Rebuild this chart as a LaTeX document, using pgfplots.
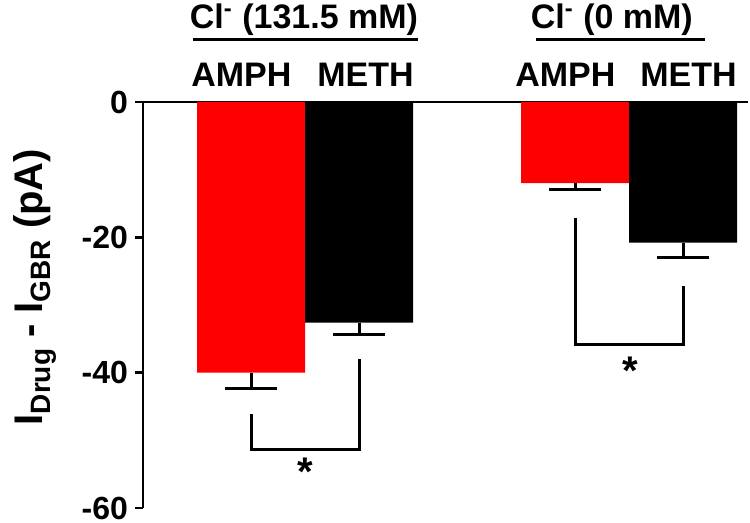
\documentclass[border=0pt]{standalone}
\usepackage{fontspec}
\setmainfont{Liberation Sans}
\usepackage{pgfplots}
\pgfplotsset{compat=1.18}
\begin{document}
\begin{tikzpicture}
\useasboundingbox (-71.5pt,-7.5pt) rectangle (303.5pt,254pt);
\begin{axis}[
  at={(0,0)}, anchor=south west,
  scale only axis, width=302.5pt, height=203pt,
  xmin=0, xmax=5.6, ymin=-60, ymax=0,
  axis x line*=top, axis y line*=left,
  axis line style={-, line width=1.4pt},
  xtick=\empty,
  ytick={-60,-40,-20,0}, yticklabels={-60,-40,-20,0},
  tick align=outside, major tick length=4pt,
  tick style={line width=1.4pt, black},
  yticklabel style={font=\bfseries\fontsize{16}{18}\selectfont},
  clip=false,
  ylabel={\bfseries\fontsize{20}{24}\selectfont I\raisebox{-4pt}{\fontsize{14}{14}\selectfont Drug} - I\raisebox{-4pt}{\fontsize{14}{14}\selectfont GBR} (pA)},
  ylabel style={at={(axis description cs:-0.1785,0.544)}, anchor=center},
]
% AMPH (red)
\addplot[ybar, bar width=1, bar shift=0pt, fill=red, draw=none,
  error bars/.cd, y dir=minus, y explicit,
  error bar style={black, line width=1.5pt},
  error mark options={rotate=90, mark size=13pt, line width=1.5pt, black}]
  coordinates {(1,-40.0) +- (0,2.3) (4,-12.0) +- (0,0.9)};
% METH (black)
\addplot[ybar, bar width=1, bar shift=0pt, fill=black, draw=none,
  error bars/.cd, y dir=minus, y explicit,
  error bar style={black, line width=1.5pt},
  error mark options={rotate=90, mark size=13pt, line width=1.5pt, black}]
  coordinates {(2,-32.6) +- (0,1.8) (5,-20.8) +- (0,2.2)};

% drug labels
\node[font=\bfseries\fontsize{17}{20}\selectfont] at (axis cs:0.91,4.0) {AMPH};
\node[font=\bfseries\fontsize{17}{20}\selectfont] at (axis cs:2.06,4.0) {METH};
\node[font=\bfseries\fontsize{17}{20}\selectfont] at (axis cs:3.91,4.0) {AMPH};
\node[font=\bfseries\fontsize{17}{20}\selectfont] at (axis cs:5.05,4.0) {METH};

% group titles
\node[font=\bfseries\fontsize{17}{20}\selectfont] at (axis cs:1.49,12.1) {Cl\textsuperscript{-} (131.5 mM)};
\draw[line width=1.4pt] (axis cs:0.46,9.2) -- (axis cs:2.55,9.2);
\node[font=\bfseries\fontsize{17}{20}\selectfont] at (axis cs:4.34,12.1) {Cl\textsuperscript{-} (0 mM)};
\draw[line width=1.4pt] (axis cs:3.64,9.2) -- (axis cs:5.2,9.2);

% significance brackets
\draw[line width=1.5pt] (axis cs:1,-46.1) -- (axis cs:1,-51.4) -- (axis cs:2,-51.4) -- (axis cs:2,-38.0);
\node[anchor=base, font=\bfseries\fontsize{20}{24}\selectfont] at (axis cs:1.5,-56.7) {*};
\draw[line width=1.5pt] (axis cs:4,-17.1) -- (axis cs:4,-35.9) -- (axis cs:5,-35.9) -- (axis cs:5,-27.2);
\node[anchor=base, font=\bfseries\fontsize{20}{24}\selectfont] at (axis cs:4.51,-41.7) {*};
\end{axis}
\end{tikzpicture}
\end{document}
